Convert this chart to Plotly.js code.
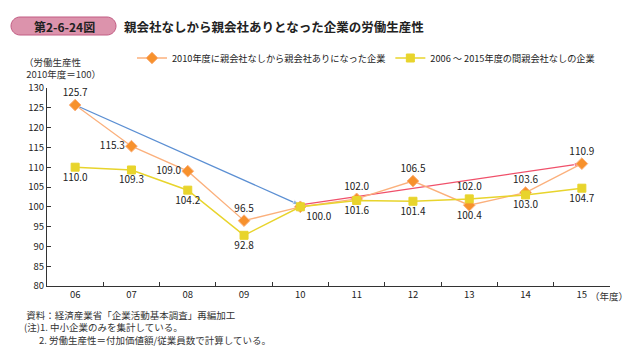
<!DOCTYPE html>
<html><head><meta charset="utf-8">
<script src="https://cdn.plot.ly/plotly-3.0.1.min.js"></script>
<style>html,body{margin:0;padding:0;background:#fff}#chart{width:630px;height:353px}</style>
</head><body><div id="chart"></div>
<script>
// ---- data ----
var years = ['06','07','08','09','10','11','12','13','14','15'];
var seriesA = [125.7,115.3,109.0,96.5,100.0,102.0,106.5,100.4,103.6,110.9];
var seriesB = [110.0,109.3,104.2,92.8,100.0,101.6,101.4,102.0,103.0,104.7];
var nameA = '2010年度に親会社なしから親会社ありになった企業';
var nameB = '2006 ～ 2015年度の間親会社なしの企業';
var trendBeforeX = ['06','10'];
var trendBeforeY = [125.7,100.4];
var trendAfterX = ['10','15'];
var trendAfterY = [100.5,110.9];
var dividerYear = '10';
var labelsA = ['125.7','115.3','109.0','96.5','','102.0','106.5','100.4','103.6','110.9'];
var labelsB = ['110.0','109.3','104.2','92.8','100.0','101.6','101.4','102.0','103.0','104.7'];

// ---- styles ----
var posA = ['top center','middle left','middle left','top center','top center','top center','top center','bottom center','top center','top center'];
var posB = ['bottom center','bottom center','bottom center','bottom center','bottom right','bottom center','bottom center','top center','bottom center','bottom center'];

var L=47, R=20, T=88, B=67, W=630, H=353;
var pw=W-L-R, ph=H-T-B;
function px(x){return (x-L)/pw;}
function py(y){return (H-B-y)/ph;}
function pill(x0,y0,x1,y1){
  var r=(y1-y0)/2, k=0.5523*r;
  return 'M'+px(x0+r)+','+py(y0)+
   ' L'+px(x1-r)+','+py(y0)+
   ' C'+px(x1-r+k)+','+py(y0)+' '+px(x1)+','+py(y0+r-k)+' '+px(x1)+','+py(y0+r)+
   ' C'+px(x1)+','+py(y0+r+k)+' '+px(x1-r+k)+','+py(y1)+' '+px(x1-r)+','+py(y1)+
   ' L'+px(x0+r)+','+py(y1)+
   ' C'+px(x0+r-k)+','+py(y1)+' '+px(x0)+','+py(y0+r+k)+' '+px(x0)+','+py(y0+r)+
   ' C'+px(x0)+','+py(y0+r-k)+' '+px(x0+r-k)+','+py(y0)+' '+px(x0+r)+','+py(y0)+' Z';
}
var FONT='"Noto Sans CJK JP", "Noto Sans", sans-serif';
var txtFont={family:FONT,size:10,color:'#222'};

var traces=[
 {x:trendBeforeX,y:trendBeforeY,type:'scatter',mode:'lines+markers',showlegend:false,hoverinfo:'skip',
  line:{color:'#5b8fd3',width:1.3},marker:{symbol:'arrow',size:[0,8],angleref:'previous',color:'#5b8fd3'}},
 {x:trendAfterX,y:trendAfterY,type:'scatter',mode:'lines+markers',showlegend:false,hoverinfo:'skip',
  line:{color:'#f0506a',width:1.3},marker:{symbol:'arrow',size:[0,8],angleref:'previous',color:'#f0506a'}},
 {x:years,y:seriesA,name:nameA,type:'scatter',mode:'lines+markers+text',text:labelsA,textposition:posA,
  textfont:txtFont,line:{color:'#fbb07c',width:1.3},
  marker:{symbol:'diamond',size:9,color:'#f7912c',line:{color:'#fbb07c',width:1}}},
 {x:years,y:seriesB,name:nameB,type:'scatter',mode:'lines+markers+text',text:labelsB,textposition:posB,
  textfont:txtFont,line:{color:'#e8d42c',width:1.5},
  marker:{symbol:'square',size:8,color:'#e8d42c',line:{color:'#e8d42c',width:1}}}
];

var small={family:FONT,size:9.5,color:'#333'};
var layout={
 width:W,height:H,margin:{l:L,r:R,t:T,b:B},
 paper_bgcolor:'#fff',plot_bgcolor:'#fff',
 font:{family:FONT,color:'#333'},
 xaxis:{type:'category',categoryorder:'array',categoryarray:years,range:[-0.5,9.5],showline:true,linecolor:'#333',linewidth:1,
   ticks:'inside',tickson:'boundaries',ticklen:4,tickcolor:'#333',showgrid:false,zeroline:false,
   tickfont:{family:FONT,size:9.5,color:'#222'}},
 yaxis:{range:[80,130],dtick:5,showline:true,linecolor:'#333',linewidth:1,ticks:'inside',ticklen:4,
   tickcolor:'#333',showgrid:false,zeroline:false,tickfont:{family:FONT,size:9.5,color:'#222'}},
 showlegend:true,
 legend:{orientation:'h',x:px(132),xanchor:'left',y:py(58),yanchor:'middle',
   font:{family:FONT,size:9.2,color:'#222'},
   bgcolor:'rgba(0,0,0,0)',itemclick:false},
 shapes:[
  {type:'line',xref:'x',yref:'paper',x0:dividerYear,x1:dividerYear,y0:0,y1:py(84),
   line:{color:'#222',width:1,dash:'dot'}},
  {type:'path',xref:'paper',yref:'paper',path:pill(11,17,116,35),
   fillcolor:'#dc93ac',line:{color:'#c25c83',width:1}}
 ],
 annotations:[
  {xref:'paper',yref:'paper',x:px(64),y:py(26),text:'<b>第2-6-24図</b>',showarrow:false,
   xanchor:'center',yanchor:'middle',font:{family:FONT,size:12,color:'#222'}},
  {xref:'paper',yref:'paper',x:px(122),y:py(26),text:'<b>親会社なしから親会社ありとなった企業の労働生産性</b>',showarrow:false,
   xanchor:'left',yanchor:'middle',font:{family:FONT,size:12.5,color:'#222'}},
  {xref:'paper',yref:'paper',x:px(22),y:py(53),text:'（労働生産性<br>\u00a02010年度＝100）',showarrow:false,align:'left',
   xanchor:'left',yanchor:'top',font:small},
  {xref:'paper',yref:'paper',x:px(588),y:py(296),text:'（年度）',showarrow:false,xanchor:'left',yanchor:'middle',font:small},
  {xref:'paper',yref:'paper',x:px(22),y:py(306),
   text:'\u00a0資料：経済産業省「企業活動基本調査」再編加工<br>(注)1. 中小企業のみを集計している。<br>\u00a0\u00a0\u00a0\u00a0\u00a0\u00a0\u00a02. 労働生産性＝付加価値額/従業員数で計算している。',
   showarrow:false,align:'left',xanchor:'left',yanchor:'top',font:small}
 ]
};
Plotly.newPlot('chart',traces,layout,{staticPlot:true,displayModeBar:false});
</script></body></html>
